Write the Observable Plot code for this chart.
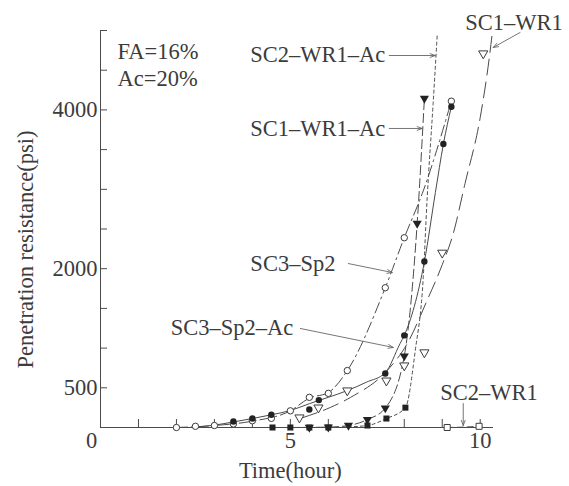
<!DOCTYPE html>
<html><head><meta charset="utf-8">
<script src="https://cdn.jsdelivr.net/npm/d3@7"></script>
<script src="https://cdn.jsdelivr.net/npm/@observablehq/plot@0.6"></script>
<style>body{margin:0;background:#fff} #chart svg{display:block}</style>
</head><body><div id="chart"></div>
<script>
// ---- data: [time (hour), penetration resistance (psi)] ----
// SC3-Sp2 (open circles, dash-dot)
const sc3Sp2Line = [[2.0,0],[3.0,25],[4.0,80],[5.0,210],[5.5,370],[6.0,440],[6.5,717],[7.5,1760],[8.0,2390],[8.5,2980],[9.24,4110]];
const sc3Sp2Pts  = [[2.0,0],[2.5,15],[3.0,25],[3.5,45],[4.0,85],[4.5,115],[5.0,210],[5.5,380],[6.0,430],[6.5,717],[7.5,1760],[8.0,2390],[9.24,4110]];
// SC3-Sp2-Ac (filled circles, solid)
const sc3Sp2AcLine = [[2.5,5],[3.0,30],[3.5,70],[4.0,113],[4.5,160],[5.0,214],[5.5,300],[6.0,380],[6.5,465],[7.0,570],[7.5,690],[7.89,1058],[8.0,1160],[8.53,2090],[8.82,2960],[9.03,3570],[9.24,4040]];
const sc3Sp2AcPts  = [[3.5,75],[4.0,113],[4.5,160],[5.5,226],[5.75,345],[7.5,680],[8.0,1160],[8.53,2090],[9.03,3570],[9.24,4040]];
// SC1-WR1-Ac (filled down-triangles, dashed)
const sc1Wr1AcLine = [[5.0,0],[6.0,5],[6.53,25],[7.03,100],[7.5,245],[8.0,900],[8.34,2570],[8.53,4145]];
const sc1Wr1AcPts  = [[5.5,0],[6.0,5],[6.53,25],[7.03,100],[7.5,245],[8.0,900],[8.34,2570],[8.53,4145]];
// SC2-WR1-Ac (filled squares, short dash)
const sc2Wr1AcLine = [[4.0,0],[6.0,0],[6.5,8],[7.03,25],[7.53,113],[8.03,250],[8.29,970],[8.5,1890],[8.6,2860],[8.76,4080],[8.87,4960]];
const sc2Wr1AcPts  = [[4.53,0],[5.0,0],[5.5,0],[6.0,0],[7.03,25],[7.53,113],[8.03,250]];
// SC1-WR1 (open down-triangles, long dash)
const sc1Wr1Line = [[5.3,120],[6.05,252],[6.58,378],[7.55,718],[8.08,1058],[8.6,1600],[9.0,2050],[9.29,2443],[9.6,3073],[10.0,3904],[10.24,4660],[10.32,4975]];
const sc1Wr1Pts  = [[5.24,125],[5.74,250],[6.5,465],[7.53,590],[8.0,780],[8.53,945],[9.0,2200],[10.08,4710]];
// SC2-WR1 (open squares, dashed)
const sc2Wr1Line = [[9.13,0],[9.55,5],[9.97,15]];
const sc2Wr1Pts  = [[9.13,0],[9.97,15]];

// ---- ticks ----
const xTickValues = [1,2,3,4,5,6,7,8,9,10];
const xTickLabels = [5,10];
const yTickValues = [500,1000,1500,2000,2500,3000,3500,4000,4500,5000];
const yTickLabels = [500,2000,4000];

// ---- annotations (data units) ----
const noteTexts   = ["FA=16%","Ac=20%"];
const noteT       = [0.447,0.447];
const noteV       = [4736,4389];
const seriesLabels = ["SC2–WR1–Ac","SC1–WR1–Ac","SC1–WR1","SC3–Sp2","SC3–Sp2–Ac","SC2–WR1"];
const labelT       = [7.5,7.5,9.605,3.947,5.079,8.947];
const labelV       = [4698,3766,5101,2065,1259,441];
const labelAnchor  = ["end","end","start","start","end","start"];
const arrowT1 = [7.605,7.605,11.05,6.526,5.263,9.553];
const arrowV1 = [4685,3766,4975,2065,1247,302];
const arrowT2 = [8.816,8.474,10.342,7.684,7.711,9.553];
const arrowV2 = [4685,3766,4786,1952,1008,25];
const xTitle = "Time(hour)";
const yTitle = "Penetration resistance(psi)";

const ink = "#3c3c3c";
const lineInk = "#4a4a4a";
const font = "'Liberation Serif','Times New Roman',serif";
const fs = 22.5;

const L = arr => arr.map(([t,v]) => ({t, v}));
const labels = seriesLabels.map((s,i) => ({s, t: labelT[i], v: labelV[i], a: labelAnchor[i]}));
const arrows = arrowT1.map((_,i) => ({x1: arrowT1[i], y1: arrowV1[i], x2: arrowT2[i], y2: arrowV2[i]}));
const notes = noteTexts.map((s,i) => ({s, t: noteT[i], v: noteV[i]}));

const lineOpts = (dash, w=1) => ({x:"t", y:"v", curve:"monotone-x", stroke: lineInk, strokeWidth: w, strokeDasharray: dash});

const chart = Plot.plot({
  width: 569, height: 486,
  marginLeft: 100, marginRight: 76, marginTop: 30, marginBottom: 59,
  style: {fontFamily: font, fontSize: fs + "px", color: ink, background: "white"},
  x: {domain: [0, 10.35]},
  y: {domain: [0, 5000]},
  marks: [
    // axes lines
    Plot.ruleY([0], {stroke: lineInk, strokeWidth: 1}),
    Plot.ruleX([0], {stroke: lineInk, strokeWidth: 1}),
    Plot.axisX(xTickValues, {tickSize: -8, tickFormat: () => "", label: null, stroke: lineInk}),
    Plot.axisX(xTickLabels, {tickSize: 0, tickPadding: 5, label: null, fontSize: fs, fill: ink, tickFormat: d => String(d)}),
    Plot.axisX([0], {tickSize: 0, tickPadding: 5, dx: -9, label: null, fontSize: fs, fill: ink, tickFormat: d => String(d)}),
    Plot.axisY(yTickValues, {tickSize: -7, tickFormat: () => "", label: null, stroke: lineInk}),
    Plot.axisY(yTickLabels, {tickSize: 0, tickPadding: 3, label: null, fontSize: fs, fill: ink, tickFormat: d => String(d)}),
    // series lines
    Plot.line(L(sc3Sp2Line), lineOpts("11,4,2,4")),
    Plot.line(L(sc3Sp2AcLine), lineOpts(null)),
    Plot.line(L(sc1Wr1AcLine), lineOpts("9,4")),
    Plot.line(L(sc2Wr1AcLine), lineOpts("3,3")),
    Plot.line(L(sc1Wr1Line), lineOpts("16,7")),
    Plot.line(L(sc2Wr1Line), lineOpts("6,4")),
    // markers
    Plot.dot(L(sc3Sp2Pts), {x:"t", y:"v", symbol:"circle", r:3.2, fill:"white", stroke: ink, strokeWidth: 1}),
    Plot.dot(L(sc3Sp2AcPts), {x:"t", y:"v", symbol:"circle", r:3.2, fill:"#222", stroke:"none"}),
    Plot.dot(L(sc1Wr1AcPts), {x:"t", y:"v", symbol:"triangle", r:3.4, rotate:180, fill:"#222", stroke:"none"}),
    Plot.dot(L(sc2Wr1AcPts), {x:"t", y:"v", symbol:"square", r:3.4, fill:"#222", stroke:"none"}),
    Plot.dot(L(sc1Wr1Pts), {x:"t", y:"v", symbol:"triangle", r:3.4, rotate:180, fill:"white", stroke: ink, strokeWidth: 1}),
    Plot.dot(L(sc2Wr1Pts), {x:"t", y:"v", symbol:"square", r:3.4, fill:"white", stroke: ink, strokeWidth: 1}),
    // annotations
    Plot.arrow(arrows, {x1:"x1", y1:"y1", x2:"x2", y2:"y2", stroke:"#666", strokeWidth: 0.9, headLength: 9, headAngle: 40}),
    Plot.text(labels.filter(d => d.a === "end"), {x:"t", y:"v", text:"s", textAnchor:"end", fontSize: fs, fill: ink, lineAnchor:"middle"}),
    Plot.text(labels.filter(d => d.a === "start"), {x:"t", y:"v", text:"s", textAnchor:"start", fontSize: fs, fill: ink, lineAnchor:"middle"}),
    Plot.text(notes, {x:"t", y:"v", text:"s", textAnchor:"start", fontSize: fs, fill: ink, lineAnchor:"middle"}),
    Plot.text([yTitle], {x: () => -1.97, y: () => 2242, text: d => d, rotate: -90, fontSize: fs, fill: ink}),
    Plot.text([xTitle], {x: () => 5.0, y: () => -541, text: d => d, fontSize: fs, fill: ink})
  ]
});
document.getElementById("chart").appendChild(chart);
</script>
</body></html>
